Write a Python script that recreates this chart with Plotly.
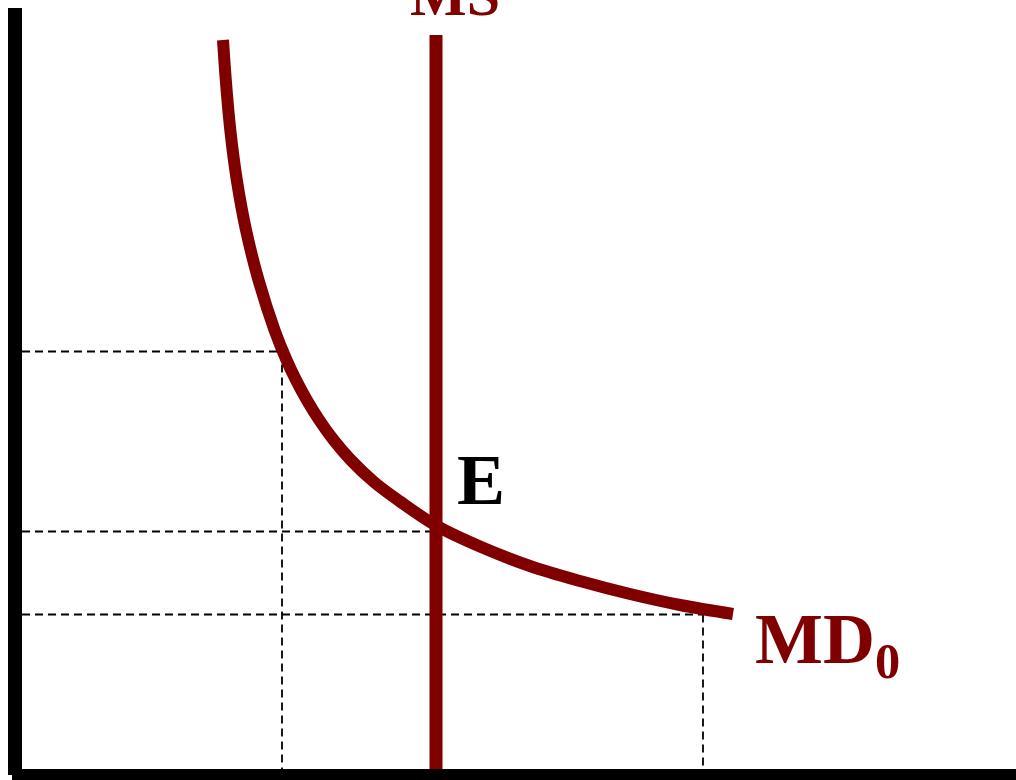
import plotly.graph_objects as go

# Money market: quantity of money (x) vs interest rate (y)
md_q = [2.080, 2.108, 2.153, 2.218, 2.310, 2.435, 2.595, 2.715, 2.810, 2.918, 3.042,
        3.186, 3.358, 3.590, 3.850, 4.210, 4.650, 5.150, 5.650, 6.150, 6.650, 7.180]
md_r = [7.35, 6.95, 6.45, 5.95, 5.45, 4.95, 4.45, 4.15, 3.95, 3.75, 3.55,
        3.35, 3.15, 2.93, 2.735, 2.495, 2.285, 2.09, 1.94, 1.81, 1.70, 1.61]

ms_q = 4.21          # money supply (vertical)
ms_top = 7.40
q_levels = [2.67, 4.21, 6.88]
r_levels = [4.235, 2.435, 1.605]

x_max = 10.01
y_max = 7.67

RED = "#800000"
fig = go.Figure()

# dashed guide lines
for q, r in zip(q_levels, r_levels):
    fig.add_trace(go.Scatter(x=[0.07, q], y=[r, r], mode="lines",
                             line=dict(color="black", width=1.8, dash="8px,5px"),
                             hoverinfo="skip"))
    if q != ms_q:
        fig.add_trace(go.Scatter(x=[q, q], y=[r, 0.06], mode="lines",
                                 line=dict(color="black", width=1.8, dash="8px,5px"),
                                 hoverinfo="skip"))

# MD curve
fig.add_trace(go.Scatter(x=md_q, y=md_r, mode="lines",
                         line=dict(color=RED, width=12, shape="spline", smoothing=1.0),
                         hoverinfo="skip"))
# MS line
fig.add_trace(go.Scatter(x=[ms_q, ms_q], y=[-0.06, ms_top], mode="lines",
                         line=dict(color=RED, width=13), hoverinfo="skip"))

# axes (L shape)
fig.add_trace(go.Scatter(x=[0, 0], y=[y_max, 0.0], mode="lines",
                         line=dict(color="black", width=14), hoverinfo="skip"))
fig.add_trace(go.Scatter(x=[-0.03, x_max], y=[0.0, 0.0], mode="lines",
                         line=dict(color="black", width=12), hoverinfo="skip"))

serif = "Liberation Serif"
fig.add_annotation(x=4.40, xref="x", y=1.0064, yref="paper", text="<b>MS</b>",
                   showarrow=False, xanchor="center", yanchor="middle",
                   font=dict(family=serif, size=60, color=RED))
fig.add_annotation(x=4.40, y=2.95, text="<b>E</b>", showarrow=False,
                   xanchor="left", yanchor="middle",
                   font=dict(family=serif, size=72, color="black"))
fig.add_annotation(x=7.38, y=1.31, text="<b>MD<sub>0</sub></b>", showarrow=False,
                   xanchor="left", yanchor="middle",
                   font=dict(family=serif, size=72, color=RED))

fig.update_layout(
    width=1016, height=780,
    margin=dict(l=0, r=0, t=0, b=0),
    paper_bgcolor="white", plot_bgcolor="white",
    showlegend=False,
    xaxis=dict(range=[-0.15, 10.01], visible=False, fixedrange=True),
    yaxis=dict(range=[-0.05, 7.75], visible=False, fixedrange=True),
)
fig.write_html("out.html", config={"displayModeBar": False},
               post_script="document.body.style.margin='0';")
